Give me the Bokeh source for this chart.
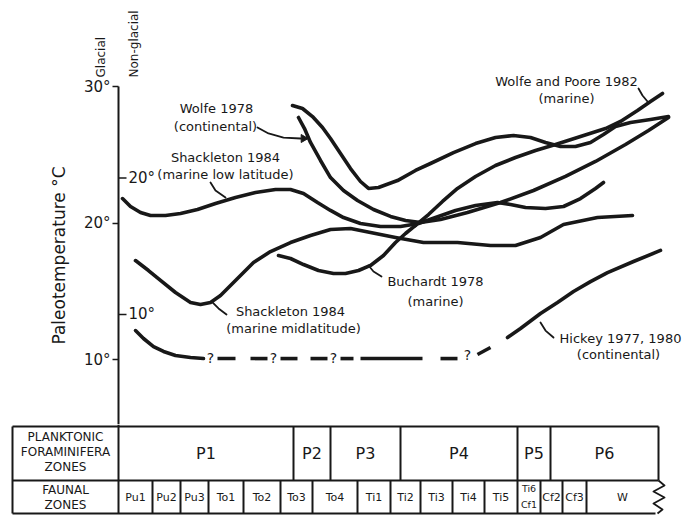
from math import pi

from bokeh.plotting import figure
from bokeh.layouts import column
from bokeh.models import Range1d, LinearAxis, FixedTicker, ColumnDataSource
from bokeh.core.properties import value
from bokeh.embed import file_html
from bokeh.resources import INLINE

FONT = "DejaVu Sans"
INK = "#181818"

# ---------------------------------------------------------------------------
# Zonal time scale (horizontal position, 0 = base of faunal zone Pu1)
faunal_zones = ["Pu1", "Pu2", "Pu3", "To1", "To2", "To3", "To4", "Ti1", "Ti2",
                "Ti3", "Ti4", "Ti5", "Ti6/Cf1", "Cf2", "Cf3", "W"]
faunal_edges = [0, 34, 62, 90, 125, 162, 194, 239, 272, 302, 334, 366, 399,
                422, 444, 468, 540]
plankton_zones = ["P1", "P2", "P3", "P4", "P5", "P6"]
plankton_edges = [0, 175, 212, 282, 399, 432, 540]

# Temperature scales: glacial (axis) and non-glacial (offset inner scale)
glacial_ticks = [10, 20, 30]
nonglacial_ticks = [20, 10]
nonglacial_offset = 3.3

# ---------------------------------------------------------------------------
# Paleotemperature estimates (°C) along the zonal scale
shackleton_low_x = [4, 12, 22, 32, 47, 62, 79, 97, 117, 137, 157, 172, 185, 199,
                    212, 225, 242, 262, 282, 300, 317, 337, 357, 379, 392, 407,
                    427, 445, 462, 477, 485]
shackleton_low_t = [21.79, 21.21, 20.77, 20.55, 20.55, 20.70, 20.99, 21.43, 21.87,
                    22.23, 22.45, 22.45, 22.16, 21.50, 20.92, 20.40, 19.96, 19.74,
                    19.74, 19.96, 20.40, 20.92, 21.28, 21.50, 21.36, 21.14, 21.06,
                    21.21, 21.79, 22.53, 22.97]

shackleton_mid_x = [17, 30, 42, 57, 72, 82, 92, 102, 119, 135, 152, 172, 192, 212,
                    232, 252, 277, 305, 339, 372, 397, 422, 445, 479, 514]
shackleton_mid_t = [17.25, 16.52, 15.79, 14.91, 14.18, 14.03, 14.18, 14.69, 15.93,
                    17.11, 17.91, 18.57, 19.08, 19.52, 19.60, 19.30, 18.94, 18.57,
                    18.57, 18.35, 18.35, 18.94, 19.89, 20.40, 20.55]

buchardt_x = [160, 172, 185, 200, 215, 227, 240, 252, 265, 277, 287, 297]
buchardt_t = [17.62, 17.40, 16.96, 16.52, 16.30, 16.30, 16.52, 16.89, 17.62,
              18.57, 19.23, 19.82]

wolfe_poore_x = [297, 310, 324, 339, 357, 377, 397, 417, 437, 462, 487, 502, 519,
                 532, 544]
wolfe_poore_t = [19.82, 20.62, 21.58, 22.53, 23.41, 24.21, 24.80, 25.31, 25.75,
                 26.34, 26.92, 27.44, 28.24, 28.90, 29.49]

wolfe_upper_x = [174, 184, 194, 204, 212, 222, 232, 242, 250, 260, 279, 297, 312,
                 335, 357, 377, 395, 412, 427, 442, 457, 472, 485, 497, 512, 532, 550]
wolfe_upper_t = [28.61, 28.39, 27.80, 27.00, 26.19, 25.09, 23.99, 23.04, 22.53,
                 22.60, 23.11, 23.85, 24.36, 25.16, 25.82, 26.26, 26.41, 26.26,
                 25.90, 25.60, 25.60, 25.90, 26.48, 27.07, 27.36, 27.58, 27.80]

wolfe_lower_x = [180, 186, 192, 202, 212, 225, 239, 255, 272, 287, 302, 322, 349,
                 382, 415, 447, 477, 507, 530, 550]
wolfe_lower_t = [27.73, 26.92, 25.90, 24.58, 23.33, 22.38, 21.65, 20.99, 20.48,
                 20.18, 20.04, 20.26, 20.77, 21.50, 22.38, 23.41, 24.51, 25.75,
                 26.78, 27.73]

hickey_early_x = [17, 25, 35, 45, 57, 72, 85]
hickey_early_t = [12.12, 11.54, 10.95, 10.59, 10.29, 10.15, 10.07]
hickey_late_x = [389, 402, 422, 439, 455, 472, 489, 515, 542]
hickey_late_t = [11.61, 12.27, 13.37, 14.18, 14.98, 15.71, 16.37, 17.18, 17.99]

# Hickey's uncertain interval: dashes and query marks
hickey_gap_x0 = [99, 132, 162, 192, 222, 242, 322, 359]
hickey_gap_x1 = [117, 149, 179, 209, 235, 304, 339, 372]
hickey_gap_t0 = [10.07, 10.07, 10.07, 10.07, 10.07, 10.07, 10.07, 10.37]
hickey_gap_t1 = [10.07, 10.07, 10.07, 10.07, 10.07, 10.07, 10.07, 10.88]
hickey_query_x = [92, 155, 215, 349]
hickey_query_t = [10.10, 10.10, 10.10, 10.30]

# ---------------------------------------------------------------------------
# Curve labels and their leader lines
label_text = ["Wolfe 1978", "(continental)", "Shackleton 1984", "(marine low latitude)",
              "Wolfe and Poore 1982", "(marine)", "Buchardt 1978", "(marine)",
              "Shackleton 1984", "(marine midlatitude)", "Hickey 1977, 1980",
              "(continental)"]
label_x = [98, 97, 107, 107, 448, 448, 317, 317, 172, 175, 502, 500]
label_t = [28.39, 27.07, 24.80, 23.55, 30.37, 29.12, 15.71, 14.25, 13.52, 12.27,
           11.54, 10.37]

leader_xs = [[92, 97, 107], [139, 150, 165, 182], [520, 524, 529],
             [250, 255, 263], [94, 100, 108], [422, 427, 435]]
leader_ts = [[22.97, 22.38, 21.87], [27.00, 26.56, 26.26, 26.19],
             [29.85, 29.34, 28.90], [16.89, 16.45, 16.08],
             [14.18, 13.74, 13.30], [12.71, 12.12, 11.61]]
arrow_x, arrow_t = [185], [26.19]

# ---------------------------------------------------------------------------
T_MIN, T_MAX = 5.24, 36.30
X_MIN, X_MAX = -118, 577

top = figure(width=695, height=424, output_backend="svg", toolbar_location=None,
             x_range=Range1d(X_MIN, X_MAX), y_range=Range1d(T_MIN, T_MAX),
             x_axis_type=None, y_axis_type=None, min_border=0,
             min_border_left=0, min_border_right=0,
             min_border_top=0, min_border_bottom=0)
top.outline_line_color = None
top.background_fill_color = "white"
top.border_fill_color = "white"
top.extra_y_ranges = {"nonglacial": Range1d(T_MIN - nonglacial_offset,
                                             T_MAX - nonglacial_offset)}

# temperature axis standing at the base of the zonal scale
yaxis = LinearAxis(ticker=FixedTicker(ticks=glacial_ticks), bounds=(T_MIN, 30),
                   fixed_location=0, axis_label="Paleotemperature °C")
yaxis.major_label_overrides = {t: f"{t}°" for t in glacial_ticks}
yaxis.axis_line_width = 2
yaxis.axis_line_color = INK
yaxis.major_tick_line_color = INK
yaxis.major_tick_line_width = 1.5
yaxis.major_tick_out = 6
yaxis.major_tick_in = 0
yaxis.minor_tick_out = 0
yaxis.minor_tick_in = 0
yaxis.major_label_standoff = 2
yaxis.major_label_text_font = FONT
yaxis.major_label_text_font_size = "15px"
yaxis.major_label_text_color = INK
yaxis.axis_label_text_font = FONT
yaxis.axis_label_text_font_size = "17px"
yaxis.axis_label_text_font_style = "normal"
yaxis.axis_label_text_color = INK
yaxis.axis_label_standoff = 12
top.add_layout(yaxis, "left")

# inner (non-glacial) scale
top.segment(x0=[0] * len(nonglacial_ticks), x1=[8] * len(nonglacial_ticks),
            y0=nonglacial_ticks, y1=nonglacial_ticks, y_range_name="nonglacial",
            line_color=INK, line_width=1.5)
top.text(x=[10] * len(nonglacial_ticks), y=nonglacial_ticks,
         text=[f"{t}°" for t in nonglacial_ticks], y_range_name="nonglacial",
         text_font=value(FONT), text_font_size="15px", text_color=INK,
         text_align="left", text_baseline="middle")

# scale headings
top.text(x=[-18, 15], y=[30.66, 30.66], text=["Glacial", "Non-glacial"], angle=pi / 2,
         text_font=value(FONT), text_font_size="12px", text_color=INK,
         text_align="left", text_baseline="middle")

curve_style = dict(line_color=INK, line_width=3.6, line_cap="round", line_join="round")
for xs, ts in ((shackleton_low_x, shackleton_low_t),
               (shackleton_mid_x, shackleton_mid_t),
               (buchardt_x, buchardt_t),
               (wolfe_poore_x, wolfe_poore_t),
               (wolfe_upper_x, wolfe_upper_t),
               (wolfe_lower_x, wolfe_lower_t),
               (hickey_early_x, hickey_early_t),
               (hickey_late_x, hickey_late_t)):
    top.line(xs, ts, **curve_style)

top.segment(x0=hickey_gap_x0, y0=hickey_gap_t0, x1=hickey_gap_x1, y1=hickey_gap_t1,
            line_color=INK, line_width=3.6, line_cap="butt")
top.text(x=hickey_query_x, y=hickey_query_t, text=["?"] * len(hickey_query_x),
         text_font=value(FONT), text_font_size="14px", text_color=INK,
         text_align="center", text_baseline="middle")

top.multi_line(leader_xs, leader_ts, line_color=INK, line_width=1.8, line_cap="round")
top.scatter(arrow_x, arrow_t, marker="triangle", size=8, angle=-pi / 2,
            fill_color=INK, line_color=INK)

labels = ColumnDataSource(dict(x=label_x, y=label_t, text=label_text))
top.text(x="x", y="y", text="text", source=labels, text_font=value(FONT),
         text_font_size="13px", text_color=INK, text_align="center",
         text_baseline="middle")

# ---------------------------------------------------------------------------
# Zone table beneath the temperature axis
row_bottom, row_mid, row_top = 0, 33, 87
header_left = -106
table_right = plankton_edges[-1]

tbl = figure(width=695, height=92, output_backend="svg", toolbar_location=None,
             x_range=Range1d(X_MIN, X_MAX), y_range=Range1d(-3, 89),
             x_axis_type=None, y_axis_type=None, min_border=0,
             min_border_left=0, min_border_right=0,
             min_border_top=0, min_border_bottom=0)
tbl.outline_line_color = None
tbl.background_fill_color = "white"
tbl.border_fill_color = "white"

rule = dict(line_color=INK, line_width=2)
tbl.segment(x0=[header_left] * 3, x1=[table_right, table_right, table_right - 3],
            y0=[row_top, row_mid, row_bottom], y1=[row_top, row_mid, row_bottom], **rule)
tbl.segment(x0=[header_left, 0], x1=[header_left, 0],
            y0=[row_bottom, row_bottom], y1=[row_top, 89], **rule)
tbl.segment(x0=plankton_edges[1:], x1=plankton_edges[1:],
            y0=[row_mid] * (len(plankton_edges) - 1),
            y1=[row_top] * (len(plankton_edges) - 1), **rule)
inner_faunal = faunal_edges[1:-1]
tbl.segment(x0=inner_faunal, x1=inner_faunal, y0=[row_bottom] * len(inner_faunal),
            y1=[row_mid] * len(inner_faunal), **rule)

# broken right edge of the faunal row
squiggle_dx = [0, 6, -5, 6, -5, 4, -1]
squiggle_y = [row_mid, 28, 22, 16, 10, 4, row_bottom]
tbl.line([table_right + d for d in squiggle_dx], squiggle_y, line_color=INK,
         line_width=1.8, line_join="round")

p_centres = [(a + b) / 2 for a, b in zip(plankton_edges[:-1], plankton_edges[1:])]
tbl.text(x=p_centres, y=[(row_mid + row_top) / 2] * len(p_centres), text=plankton_zones,
         text_font=value(FONT), text_font_size="16px", text_color=INK,
         text_align="center", text_baseline="middle")

f_single_x, f_single_text, f_split = [], [], []
for name, a, b in zip(faunal_zones, faunal_edges[:-1], faunal_edges[1:]):
    if "/" in name:
        f_split.append(((a + b) / 2, name.split("/")))
    else:
        f_single_x.append((a + b) / 2)
        f_single_text.append(name)
tbl.text(x=f_single_x, y=[(row_bottom + row_mid) / 2] * len(f_single_x),
         text=f_single_text, text_font=value(FONT), text_font_size="11px",
         text_color=INK, text_align="center", text_baseline="middle")
for xc, (upper, lower) in f_split:
    tbl.text(x=[xc, xc], y=[25, 9], text=[upper, lower], text_font=value(FONT),
             text_font_size="9.5px", text_color=INK, text_align="center",
             text_baseline="middle")

head_x = (header_left + 0) / 2
tbl.text(x=[head_x] * 5, y=[77, 62, 47, 24, 9],
         text=["PLANKTONIC", "FORAMINIFERA", "ZONES", "FAUNAL", "ZONES"],
         text_font=value(FONT), text_font_size="12px", text_color=INK,
         text_align="center", text_baseline="middle")

page = column(top, tbl, spacing=0)
open("out.html", "w").write(file_html(page, INLINE))
